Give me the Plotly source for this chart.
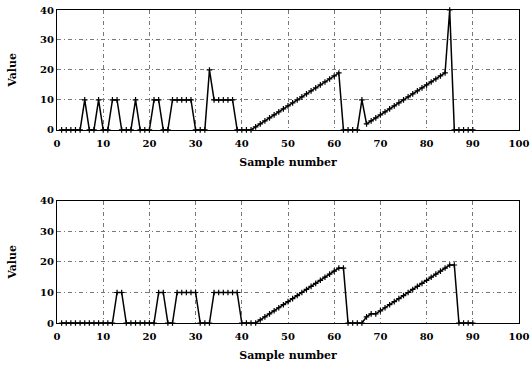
import plotly.graph_objects as go

samples = list(range(1, 91))

top_values = [
    0, 0, 0, 0, 0, 10, 0, 0, 10, 0,          # 1-10
    0, 10, 10, 0, 0, 0, 10, 0, 0, 0,         # 11-20
    10, 10, 0, 0, 10, 10, 10, 10, 10, 0,     # 21-30
    0, 0, 20, 10, 10, 10, 10, 10, 0, 0,      # 31-40
    0, 0, 1, 2, 3, 4, 5, 6, 7, 8,            # 41-50
    9, 10, 11, 12, 13, 14, 15, 16, 17, 18,   # 51-60
    19, 0, 0, 0, 0, 10, 2, 3, 4, 5,          # 61-70
    6, 7, 8, 9, 10, 11, 12, 13, 14, 15,      # 71-80
    16, 17, 18, 19, 40, 0, 0, 0, 0, 0,       # 81-90
]

bottom_values = [
    0, 0, 0, 0, 0, 0, 0, 0, 0, 0,            # 1-10
    0, 0, 10, 10, 0, 0, 0, 0, 0, 0,          # 11-20
    0, 10, 10, 0, 0, 10, 10, 10, 10, 10,     # 21-30
    0, 0, 0, 10, 10, 10, 10, 10, 10, 0,      # 31-40
    0, 0, 0, 1, 2, 3, 4, 5, 6, 7,            # 41-50
    8, 9, 10, 11, 12, 13, 14, 15, 16, 17,    # 51-60
    18, 18, 0, 0, 0, 0, 2, 3, 3, 4,          # 61-70
    5, 6, 7, 8, 9, 10, 11, 12, 13, 14,       # 71-80
    15, 16, 17, 18, 19, 19, 0, 0, 0, 0,      # 81-90
]

x_ticks = [0, 10, 20, 30, 40, 50, 60, 70, 80, 90, 100]
y_ticks = [0, 10, 20, 30, 40]

FONT = "DejaVu Serif"

fig = go.Figure()
for vals, ax in [(top_values, ("x", "y")), (bottom_values, ("x2", "y2"))]:
    fig.add_trace(go.Scatter(
        x=samples, y=vals, xaxis=ax[0], yaxis=ax[1],
        mode="lines+markers",
        line=dict(color="black", width=1.5),
        marker=dict(symbol="cross-thin", size=4, color="black",
                    line=dict(color="black", width=1.2)),
        showlegend=False, cliponaxis=False,
    ))

axis_common = dict(
    showline=True, linecolor="black", linewidth=1.2, mirror=True,
    showgrid=True, gridcolor="#777777", griddash="4px,3px,1px,3px", gridwidth=0.7,
    zeroline=False, ticks="", automargin=False, ticklabeloverflow="allow",
    tickfont=dict(family=FONT, size=10, color="black", weight="bold"),
)

title_font = dict(family=FONT, size=11, color="black", weight="bold")

fig.update_layout(
    width=530, height=367,
    margin=dict(l=57, r=11, t=10, b=44),
    paper_bgcolor="white", plot_bgcolor="white",
    xaxis=dict(axis_common, domain=[0, 1], range=[0, 100], tickvals=x_ticks,
               anchor="y", ticklabelstandoff=4,
               title=dict(text="Sample number", standoff=10, font=title_font)),
    yaxis=dict(axis_common, domain=[0.617, 1], range=[0, 40], tickvals=y_ticks,
               anchor="x",
               title=dict(text="Value", standoff=21, font=title_font)),
    xaxis2=dict(axis_common, domain=[0, 1], range=[0, 100], tickvals=x_ticks,
                anchor="y2", ticklabelstandoff=4,
                title=dict(text="Sample number", standoff=10, font=title_font)),
    yaxis2=dict(axis_common, domain=[0, 0.39], range=[0, 40], tickvals=y_ticks,
                anchor="x2",
                title=dict(text="Value", standoff=21, font=title_font)),
)

fig.write_html("out.html", config={"displayModeBar": False},
               post_script="document.body.style.margin='0';")
